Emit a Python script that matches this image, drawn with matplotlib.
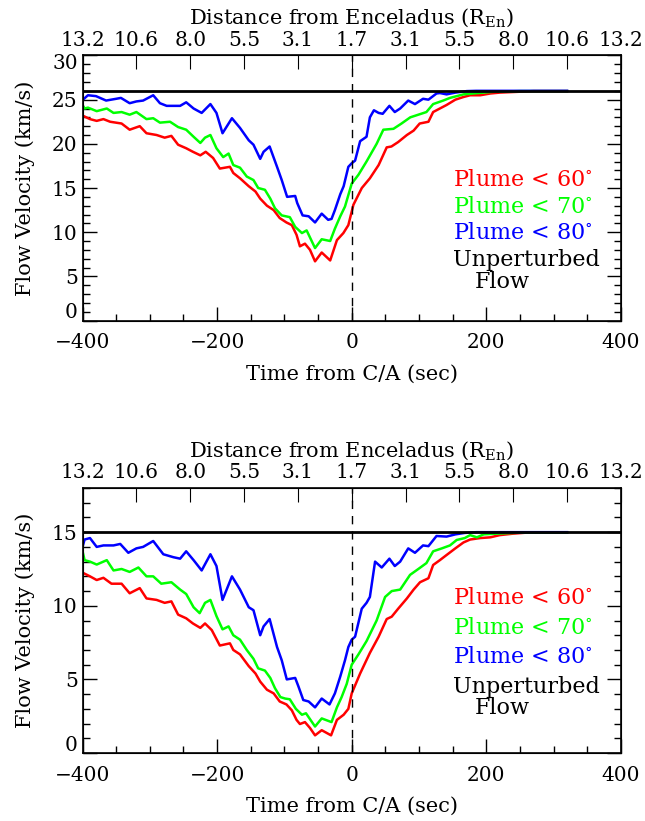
import matplotlib
matplotlib.use('Agg')
import matplotlib.pyplot as plt
from matplotlib.ticker import MultipleLocator
from matplotlib.transforms import ScaledTranslation

plt.rcParams['font.family'] = 'DejaVu Serif'
plt.rcParams['mathtext.fontset'] = 'dejavuserif'

# ---------------------------------------------------------------- top panel data
top_blue_t = [-400, -392, -380, -365, -350, -343, -330, -320, -310, -295, -285, -275, -265, -255, -246,
              -235, -223, -210, -201, -192, -178, -166, -153, -146, -136, -131, -122, -111, -104, -96,
              -84, -81, -73, -64, -54.5, -44.6, -35, -30, -25, -17, -12, -5, 0, 5, 12.5, 22, 27, 33,
              40, 46, 56, 64, 72, 84, 94, 106, 114, 126, 131, 141, 154, 171, 185, 320]
top_blue_v = [24.96, 25.5, 25.4, 24.9, 25.1, 25.2, 24.6, 24.8, 24.9, 25.5, 24.6, 24.3, 24.3, 24.3, 24.7,
              24.0, 23.5, 24.5, 23.5, 21.2, 22.9, 21.8, 20.4, 19.9, 18.3, 19.1, 19.7, 17.4, 15.9, 14.0,
              14.1, 13.3, 11.9, 11.8, 11.1, 12.1, 11.4, 11.5, 12.5, 14.3, 15.2, 17.4, 17.8, 18.1, 20.3,
              20.8, 23.0, 23.8, 23.5, 23.4, 24.3, 23.6, 24.0, 24.9, 24.5, 25.1, 25.0, 25.7, 25.75, 25.6,
              25.8, 25.97, 26.0, 26.0]

top_green_t = [-400, -397, -392, -379, -364, -354, -342, -330, -320, -305, -295, -285, -270, -258, -246,
               -235, -225, -218, -210, -201, -191, -183, -176, -166, -156, -146, -139, -129, -121, -114,
               -104, -92, -84, -74, -67, -54.5, -44.6, -32, -25, -17, -10, 0, 10, 22, 37, 47, 62, 74, 87,
               99, 111, 121, 136, 146, 156, 166, 181, 196, 211, 250, 320]
top_green_v = [24.4, 24.0, 24.1, 23.7, 24.0, 23.5, 23.6, 23.3, 23.6, 22.8, 22.9, 22.4, 22.5, 21.9, 21.6,
               20.8, 20.1, 20.7, 21.0, 19.5, 18.5, 18.9, 17.6, 17.3, 16.3, 15.9, 15.0, 14.8, 13.8, 12.7,
               11.9, 11.7, 10.6, 9.9, 10.2, 8.2, 9.2, 9.0, 10.4, 11.8, 12.9, 15.5, 16.5, 18.0, 20.0, 21.6,
               21.7, 22.3, 23.0, 23.3, 23.6, 24.5, 24.9, 25.2, 25.4, 25.6, 25.7, 25.8, 25.9, 25.97, 25.97]

top_red_t = [-400, -389, -379, -369, -359, -342, -330, -315, -305, -290, -278, -268, -258, -246, -236,
             -225, -217, -206, -196, -181, -176, -166, -153, -143, -136, -126, -116, -107, -97, -89,
             -82, -77, -69.5, -62, -54.5, -44.6, -32, -22, -12.4, -5, 2.5, 15, 27, 40, 52, 59, 69, 82,
             92, 101, 114, 121, 131, 141, 154, 166, 176, 191, 206, 220, 250, 270, 320]
top_red_v = [23.2, 22.8, 22.6, 22.8, 22.5, 22.3, 21.6, 22.0, 21.2, 21.0, 20.7, 20.9, 19.9, 19.5, 19.1,
             18.7, 19.1, 18.4, 17.2, 17.4, 16.7, 16.1, 15.2, 14.6, 13.8, 13.0, 12.5, 11.6, 11.1, 10.8,
             9.7, 8.4, 8.7, 8.0, 6.7, 7.7, 6.8, 9.1, 9.9, 10.8, 13.1, 15.0, 16.1, 17.6, 19.6, 19.7, 20.2,
             21.0, 21.5, 22.3, 22.5, 23.6, 24.0, 24.4, 25.0, 25.3, 25.5, 25.5, 25.7, 25.8, 25.9, 25.97,
             25.97]

# ---------------------------------------------------------------- bottom panel data
bot_blue_t = [-400, -397, -389, -379, -369, -354, -344, -332, -320, -310, -295, -280, -265, -255, -246,
              -235, -223, -210, -201, -192, -178, -166, -153, -146, -136, -131, -122, -111, -104, -96.5,
              -84, -79, -72, -64, -54.5, -44.6, -33, -25, -17, -10, -5, 0, 5, 14.9, 22, 27, 34.7, 44.6,
              56, 64, 72, 84, 94, 106, 114, 126, 141, 154, 168, 185, 320]
bot_blue_v = [14.0, 14.5, 14.6, 14.0, 14.1, 14.1, 14.2, 13.6, 13.9, 14.0, 14.4, 13.5, 13.3, 13.2, 13.7,
              13.1, 12.4, 13.5, 12.7, 10.4, 12.0, 11.1, 9.9, 9.7, 8.0, 8.6, 9.1, 7.2, 6.3, 5.0,
              5.1, 4.5, 3.6, 3.5, 3.1, 3.7, 3.3, 4.05, 5.2, 6.3, 7.2, 7.7, 7.9, 9.8, 10.2, 10.6, 13.0,
              12.6, 13.2, 12.7, 13.0, 13.9, 13.6, 14.1, 14.05, 14.74, 14.7, 14.85, 14.95, 15.0, 15.0]

bot_green_t = [-400, -397, -389, -379, -364, -354, -342, -330, -317, -305, -295, -283, -268, -255, -246,
               -235, -226, -218, -210, -201, -192, -183, -176, -166, -156, -146, -139, -129, -121, -114,
               -106, -99, -92, -83, -74, -68, -54.5, -44.6, -30, -22, -15, -7.4, 0, 10, 22, 37, 49.6,
               59.5, 72, 86.7, 99, 111, 121, 134, 146, 156, 168, 176, 186, 196, 215, 250, 320]
bot_green_v = [13.7, 13.1, 13.0, 12.8, 13.1, 12.4, 12.5, 12.3, 12.6, 12.0, 12.0, 11.5, 11.6, 11.1, 10.8,
               9.9, 9.5, 10.2, 10.4, 9.3, 8.4, 8.6, 8.0, 7.7, 7.0, 6.4, 5.75, 5.6, 5.1, 4.4,
               3.8, 3.7, 3.65, 3.0, 2.6, 2.7, 1.8, 2.35, 2.1, 3.1, 3.8, 4.7, 6.0, 6.7, 7.6, 9.0, 10.6,
               11.0, 11.1, 12.1, 12.5, 12.9, 13.7, 13.9, 14.1, 14.47, 14.6, 14.8, 14.65, 14.85, 14.9,
               14.97, 14.97]

bot_red_t = [-400, -389, -379, -369, -357, -342, -330, -315, -305, -290, -278, -268, -258, -246, -236,
             -225, -218, -208, -196, -181, -176, -166, -153, -143, -136, -126, -116, -107, -97, -89,
             -82, -77, -69.5, -62, -54.5, -44.6, -30.7, -22, -12, -5, 0, 12.5, 27, 40, 52, 59.4, 69, 82,
             92, 101.5, 114, 121, 131, 141, 154, 166, 176, 191, 206, 220, 240, 260, 320]
bot_red_v = [12.25, 12.0, 11.75, 11.9, 11.5, 11.5, 10.85, 11.2, 10.5, 10.4, 10.2, 10.3, 9.4, 9.15, 8.8,
             8.5, 8.8, 8.35, 7.3, 7.45, 7.0, 6.7, 5.9, 5.4, 4.85, 4.3, 4.05, 3.5, 3.3, 2.9,
             2.25, 1.97, 2.1, 1.7, 1.2, 1.55, 1.2, 2.25, 2.6, 3.0, 4.05, 5.4, 6.8, 7.9, 9.1, 9.26, 9.8,
             10.5, 11.1, 11.6, 11.87, 12.77, 13.1, 13.45, 13.9, 14.3, 14.5, 14.6, 14.65, 14.8, 14.9,
             14.97, 14.97]

top_flow = 26.0
bot_flow = 15.0

dist_ticks = [-400, -320, -240, -160, -80, 0, 80, 160, 240, 320, 400]
dist_labels = ['13.2', '10.6', '8.0', '5.5', '3.1', '1.7', '3.1', '5.5', '8.0', '10.6', '13.2']

legend_txt = ['Plume < 60$^{\\circ}$', 'Plume < 70$^{\\circ}$', 'Plume < 80$^{\\circ}$']
legend_col = ['red', '#00ff00', 'blue']


def panel(rect, curves, flow, ymax, yticks, leg_y):
    ax = fig.add_axes(rect)
    for t, v, c in curves:
        ax.plot(t, v, color=c, lw=1.8)
    ax.axhline(flow, color='black', lw=2)
    ax.axvline(0, color='black', lw=1, ls=(0, (6, 5)))
    ax.set_xlim(-400, 400)
    ax.set_ylim(0, ymax)
    ax.set_xticks([-400, -200, 0, 200, 400])
    ax.xaxis.set_minor_locator(MultipleLocator(50))
    ax.set_yticks(yticks)
    ax.yaxis.set_minor_locator(MultipleLocator(1))
    ax.tick_params(which='both', direction='in', labelsize=14.5, right=True)
    ax.tick_params(which='major', length=10, width=1)
    ax.tick_params(which='minor', length=5, width=1)
    ax.tick_params(axis='x', pad=9)
    ax.set_xlabel('Time from C/A (sec)', fontsize=15, labelpad=9)
    ax.set_ylabel('Flow Velocity (km/s)', fontsize=15, labelpad=12)
    for s in ax.spines.values():
        s.set_linewidth(1.2)

    # IDL-style nudge of the end labels on the y axis
    ylabs = ax.get_yticklabels()
    ylabs[0].set_transform(ylabs[0].get_transform() + ScaledTranslation(0, 7 / 72, fig.dpi_scale_trans))
    if ymax == yticks[-1]:
        ylabs[-1].set_transform(ylabs[-1].get_transform() + ScaledTranslation(0, -4 / 72, fig.dpi_scale_trans))

    top = ax.twiny()
    top.set_xlim(-400, 400)
    top.set_xticks(dist_ticks)
    top.set_xticklabels(dist_labels)
    top.tick_params(direction='in', length=10, labelsize=14.5, pad=4)
    top.set_xlabel('Distance from Enceladus (R$_{\\mathrm{En}}$)', fontsize=15, labelpad=5)

    for i in range(3):
        ax.text(0.688, leg_y[i], legend_txt[i], color=legend_col[i], fontsize=16,
                transform=ax.transAxes, va='center')
    ax.text(0.688, leg_y[3], 'Unperturbed', color='black', fontsize=16,
            transform=ax.transAxes, va='center')
    ax.text(0.729, leg_y[4], 'Flow', color='black', fontsize=16,
            transform=ax.transAxes, va='center')
    return ax


fig = plt.figure(figsize=(6.45, 8.21), dpi=100)

panel([0.128, 0.6096, 0.8346, 0.3228],
      [(top_red_t, top_red_v, 'red'), (top_green_t, top_green_v, '#00ff00'), (top_blue_t, top_blue_v, 'blue')],
      top_flow, 30, [0, 5, 10, 15, 20, 25, 30], [0.53, 0.428, 0.33, 0.228, 0.145])

panel([0.128, 0.0828, 0.8346, 0.3228],
      [(bot_red_t, bot_red_v, 'red'), (bot_green_t, bot_green_v, '#00ff00'), (bot_blue_t, bot_blue_v, 'blue')],
      bot_flow, 18, [0, 5, 10, 15], [0.585, 0.472, 0.362, 0.249, 0.17])

plt.savefig('out.png', dpi=100)
